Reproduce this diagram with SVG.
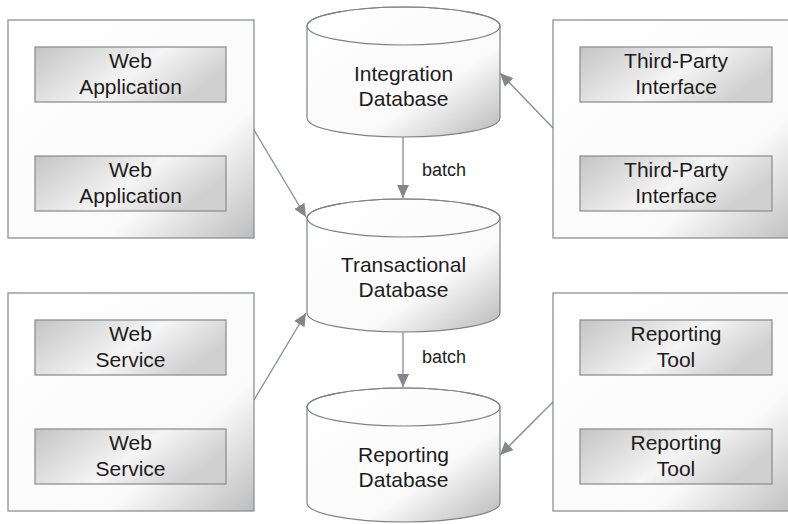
<svg xmlns="http://www.w3.org/2000/svg" width="788" height="524" viewBox="0 0 788 524">
<defs>
<linearGradient id="gOuter" x1="0" y1="0" x2="1" y2="1">
<stop offset="0" stop-color="#ffffff"/>
<stop offset="0.7" stop-color="#fafafa"/>
<stop offset="1" stop-color="#bdbdbd"/>
</linearGradient>
<linearGradient id="gInner" x1="0" y1="0" x2="1" y2="0.4">
<stop offset="0" stop-color="#c4c4c4"/>
<stop offset="0.6" stop-color="#f5f5f5"/>
<stop offset="1" stop-color="#d0d0d0"/>
</linearGradient>
<linearGradient id="gCyl" x1="0" y1="0" x2="1" y2="1">
<stop offset="0" stop-color="#ffffff"/>
<stop offset="0.65" stop-color="#fafafa"/>
<stop offset="1" stop-color="#b8b8b8"/>
</linearGradient>
<marker id="ah" viewBox="0 0 13 12" refX="13" refY="6" markerWidth="13" markerHeight="12" markerUnits="userSpaceOnUse" orient="auto">
<path d="M0,0 L13,6 L0,12 Z" fill="#80878d"/>
</marker>
</defs>
<style>
.outer{fill:url(#gOuter);stroke:#8c9196;stroke-width:1.3}
.inner{fill:url(#gInner);stroke:#8c9196;stroke-width:1.3}
.cyl{fill:url(#gCyl);stroke:#7d8287;stroke-width:1.2}
.cyltop{fill:none;stroke:#7d8287;stroke-width:1.2}
.t{font-family:"Liberation Sans",Arial,sans-serif;font-size:21px;fill:#1e1b1c;text-anchor:middle}
.lbl{font-family:"Liberation Sans",Arial,sans-serif;font-size:18px;fill:#1e1b1c}
.c{fill:none;stroke:#868d93;stroke-width:1.3;marker-end:url(#ah)}
</style>
<rect width="788" height="524" fill="#ffffff"/>

<g id="webapps">
<rect class="outer" x="8" y="20" width="246" height="218"/>
<g id="webapp1">
<rect class="inner" x="35" y="47" width="191" height="55"/>
<text class="t" x="130.5" y="68">Web</text>
<text class="t" x="130.5" y="94">Application</text>
</g>
<g id="webapp2">
<rect class="inner" x="35" y="156" width="191" height="55"/>
<text class="t" x="130.5" y="177">Web</text>
<text class="t" x="130.5" y="203">Application</text>
</g>
</g>

<g id="webservices">
<rect class="outer" x="8" y="293" width="246" height="218"/>
<g id="websvc1">
<rect class="inner" x="35" y="320" width="191" height="55"/>
<text class="t" x="130.5" y="341">Web</text>
<text class="t" x="130.5" y="367">Service</text>
</g>
<g id="websvc2">
<rect class="inner" x="35" y="429" width="191" height="55"/>
<text class="t" x="130.5" y="450">Web</text>
<text class="t" x="130.5" y="476">Service</text>
</g>
</g>

<g id="thirdparty">
<rect class="outer" x="553" y="20" width="246" height="218"/>
<g id="tp1">
<rect class="inner" x="580" y="47" width="192" height="55"/>
<text class="t" x="676" y="68">Third-Party</text>
<text class="t" x="676" y="94">Interface</text>
</g>
<g id="tp2">
<rect class="inner" x="580" y="156" width="192" height="55"/>
<text class="t" x="676" y="177">Third-Party</text>
<text class="t" x="676" y="203">Interface</text>
</g>
</g>

<g id="reporting">
<rect class="outer" x="553" y="293" width="246" height="218"/>
<g id="rt1">
<rect class="inner" x="580" y="320" width="192" height="55"/>
<text class="t" x="676" y="341">Reporting</text>
<text class="t" x="676" y="367">Tool</text>
</g>
<g id="rt2">
<rect class="inner" x="580" y="429" width="192" height="55"/>
<text class="t" x="676" y="450">Reporting</text>
<text class="t" x="676" y="476">Tool</text>
</g>
</g>

<g id="integrationdb">
<path class="cyl" d="M307,26 L307,118 A96.5,19 0 0 0 500,118 L500,26 A96.5,19 0 0 0 307,26 Z"/>
<ellipse class="cyltop" cx="403.5" cy="26" rx="96.5" ry="19"/>
<text class="t" x="403.5" y="81">Integration</text>
<text class="t" x="403.5" y="106">Database</text>
</g>

<g id="transactionaldb">
<path class="cyl" d="M307,218 L307,313 A96.5,19 0 0 0 500,313 L500,218 A96.5,19 0 0 0 307,218 Z"/>
<ellipse class="cyltop" cx="403.5" cy="218" rx="96.5" ry="19"/>
<text class="t" x="403.5" y="272">Transactional</text>
<text class="t" x="403.5" y="297">Database</text>
</g>

<g id="reportingdb">
<path class="cyl" d="M307,407 L307,503 A96.5,19 0 0 0 500,503 L500,407 A96.5,19 0 0 0 307,407 Z"/>
<ellipse class="cyltop" cx="403.5" cy="407" rx="96.5" ry="19"/>
<text class="t" x="403.5" y="462">Reporting</text>
<text class="t" x="403.5" y="487">Database</text>
</g>

<g id="connectors">
<line class="c" x1="403" y1="137" x2="403" y2="198"/>
<line class="c" x1="403" y1="332" x2="403" y2="387"/>
<line class="c" x1="254" y1="130" x2="306" y2="217"/>
<line class="c" x1="254" y1="400" x2="306" y2="313"/>
<line class="c" x1="553" y1="128" x2="500" y2="73"/>
<line class="c" x1="553" y1="402" x2="500" y2="455"/>
<text class="lbl" x="422" y="176">batch</text>
<text class="lbl" x="422" y="363">batch</text>
</g>
</svg>
